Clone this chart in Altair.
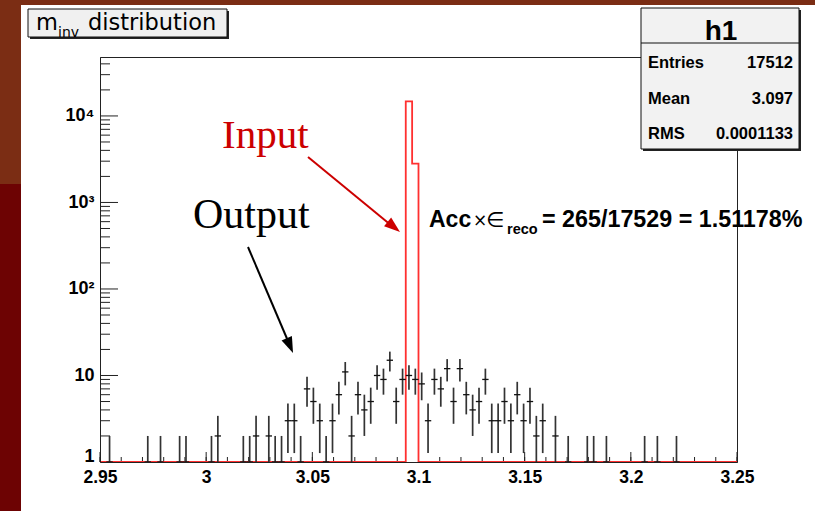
import math
import altair as alt
import pandas as pd

# ---------------- data ----------------
X_MIN, X_MAX = 2.95, 3.25
BIN_W = 0.003
Y_MIN, Y_MAX = 1, 48000

# "Output" histogram: 100 bins of width 0.003 from 2.95 to 3.25
out_counts = ([0, 1, 0, 0, 0, 0, 0, 1, 0, 1, 0, 0, 1, 1, 0, 0, 0, 1, 2, 0,
               0, 0, 1, 1, 2, 0, 2, 1, 1]
              + [3, 3, 1, 7, 5, 3, 1, 3, 6, 11, 2, 6, 4, 5, 10, 9, 15, 5, 9, 10,
                 9, 8, 3, 9, 7, 12, 5, 12, 6, 4, 5, 9, 3, 3, 5, 3, 6, 3, 5, 2, 3]
              + [0, 2, 0, 1, 0, 0, 1, 1, 0, 1, 0, 0, 0, 0, 0, 1, 0, 1, 0, 0,
                 1, 0, 0, 0, 0, 0, 0, 0, 0, 0])
assert len(out_counts) == 100

# "Input" histogram: two filled bins
in_lo = [3.094, 3.097]
in_counts = [14700, 2812]

x_labels = [2.95, 3.0, 3.05, 3.1, 3.15, 3.2, 3.25]
x_minor = [round(2.95 + 0.01 * i, 2) for i in range(31)]
y_labels = [1, 10, 100, 1000, 10000]
y_minor = [m * 10 ** k for k in range(5) for m in range(2, 10) if m * 10 ** k < Y_MAX]

stat_names = ["Entries", "Mean", "RMS"]
stat_values = ["17512", "3.097", "0.0001133"]

# ---------------- tables ----------------
rows = []
for i, n in enumerate(out_counts):
    if n > 0:
        lo = X_MIN + i * BIN_W
        rows.append(dict(lo=lo, hi=lo + BIN_W, xc=lo + BIN_W / 2, n=n))
out_df = pd.DataFrame(rows)

step_x = [X_MIN] + in_lo + [in_lo[-1] + BIN_W, X_MAX]
step_y = [Y_MIN] + in_counts + [Y_MIN, Y_MIN]
in_df = pd.DataFrame({"x": step_x, "y": step_y})

one = pd.DataFrame({"k": [0]})

# ---------------- layout helpers (page pixels -> plot pixels) ----------------
OX, OY = 100, 57
W, H = 637, 405


def PX(x):
    return x - OX


def PY(y):
    return y - OY


xscale = alt.Scale(domain=[X_MIN, X_MAX], nice=False, zero=False)
yscale = alt.Scale(type="log", domain=[Y_MIN, Y_MAX], nice=False, clamp=True)

LAB_FONT = "Liberation Sans"
xaxis = alt.Axis(values=x_labels, format="~g", ticks=False, grid=False, title=None,
                 labelFont=LAB_FONT, labelFontWeight="bold", labelFontSize=17.5,
                 labelColor="black", labelPadding=6, domainColor="#222",
                 labelOverlap=False, labelFlush=False, zindex=1)
yaxis = alt.Axis(values=y_labels, ticks=False, grid=False, title=None,
                 labelExpr="datum.value == 1 ? '1' : datum.value == 10 ? '10' : "
                           "datum.value == 100 ? '10²' : datum.value == 1000 ? '10³' : '10⁴'",
                 labelFont=LAB_FONT, labelFontWeight="bold", labelFontSize=18,
                 labelColor="black", labelPadding=6, domainColor="#222",
                 labelOffset={"condition": {"test": "datum.value == 1", "value": -6}, "value": 0},
                 labelOverlap=False, zindex=1)


def rect(x1, y1, x2, y2, **kw):
    return alt.Chart(one).mark_rect(**kw).encode(
        x=alt.value(PX(x1)), x2=alt.value(PX(x2)),
        y=alt.value(PY(y1)), y2=alt.value(PY(y2)))


def seg(x1, y1, x2, y2, **kw):
    return alt.Chart(one).mark_rule(**kw).encode(
        x=alt.value(PX(x1)), x2=alt.value(PX(x2)),
        y=alt.value(PY(y1)), y2=alt.value(PY(y2)))


def text(s, x, y, **kw):
    return alt.Chart(one).mark_text(text=s, baseline="alphabetic", **kw).encode(
        x=alt.value(PX(x)), y=alt.value(PY(y)))


def arrowhead(tx, ty, ang, color, size=256):
    r = math.sqrt(size) / 2
    cx = tx - r * math.cos(math.radians(ang))
    cy = ty - r * math.sin(math.radians(ang))
    return alt.Chart(one).mark_point(
        shape="M1,0L-1,-0.7L-1,0.7Z", filled=True, size=size, angle=ang,
        color=color, opacity=1, strokeWidth=0).encode(
        x=alt.value(PX(cx)), y=alt.value(PY(cy)))


layers = []

# page background decorations (slide edge)
layers.append(rect(0, 0, 21, 511, color="#6d0303"))
layers.append(rect(0, 0, 21, 184, color="#7b2d14"))
layers.append(rect(0, 0, 815, 5, color="#7b2d14"))

# axis ticks (ROOT style, pointing inwards)
layers.append(alt.Chart(pd.DataFrame({"v": y_labels[1:]})).mark_rule(color="#222", strokeWidth=1).encode(
    y=alt.Y("v:Q", scale=yscale, axis=yaxis), x=alt.value(0), x2=alt.value(18)))
layers.append(alt.Chart(pd.DataFrame({"v": y_minor})).mark_rule(color="#222", strokeWidth=1).encode(
    y=alt.Y("v:Q", scale=yscale, axis=yaxis), x=alt.value(0), x2=alt.value(10)))
layers.append(alt.Chart(pd.DataFrame({"v": x_labels})).mark_rule(color="#222", strokeWidth=1).encode(
    x=alt.X("v:Q", scale=xscale, axis=xaxis), y=alt.value(H), y2=alt.value(H - 10)))
layers.append(alt.Chart(pd.DataFrame({"v": x_minor})).mark_rule(color="#222", strokeWidth=1).encode(
    x=alt.X("v:Q", scale=xscale, axis=xaxis), y=alt.value(H), y2=alt.value(H - 5)))

# Input histogram (red outline)
layers.append(alt.Chart(in_df).mark_line(interpolate="step-after", color="#ff3030", strokeWidth=1.8).encode(
    x=alt.X("x:Q", scale=xscale, axis=xaxis),
    y=alt.Y("y:Q", scale=yscale, axis=yaxis)))

# Output histogram with error bars
err = alt.Chart(out_df).transform_calculate(
    elo="max(datum.n - sqrt(datum.n), 1)", ehi="datum.n + sqrt(datum.n)")
layers.append(err.mark_rule(color="#333", strokeWidth=1.7).encode(
    x=alt.X("xc:Q", scale=xscale, axis=xaxis),
    y=alt.Y("elo:Q", scale=yscale, axis=yaxis), y2="ehi:Q"))
layers.append(err.mark_rule(color="#111", strokeWidth=1.3).encode(
    x=alt.X("lo:Q", scale=xscale, axis=xaxis), x2="hi:Q",
    y=alt.Y("n:Q", scale=yscale, axis=yaxis)))

# annotations: Input / Output labels and arrows
layers.append(text("Input", 222, 148, font="Liberation Serif", fontSize=41, color="#cc0000", align="left"))
layers.append(text("Output", 193, 228, font="Liberation Serif", fontSize=42, color="black", align="left"))
layers.append(seg(308, 157, 392, 226, color="#cc0000", strokeWidth=2))
layers.append(arrowhead(400, 232, 39.2, "#cc0000"))
layers.append(seg(248, 247, 288, 341, color="black", strokeWidth=2))
layers.append(arrowhead(293, 353, 67, "black"))

# Acc x eff text
layers.append(text("Acc", 429, 227, font=LAB_FONT, fontWeight="bold", fontSize=23, color="black", align="left"))
layers.append(text("×", 473, 226, font="DejaVu Sans", fontSize=17, color="black", align="left"))
layers.append(text("∈", 486, 227, font="DejaVu Sans", fontSize=21, color="black", align="left"))
layers.append(text("reco", 507, 234, font=LAB_FONT, fontWeight="bold", fontSize=14.5, color="black", align="left"))
layers.append(text("= 265/17529 = 1.51178%", 542, 227, font=LAB_FONT, fontWeight="bold", fontSize=23.3, color="black", align="left"))

# title box
layers.append(rect(30, 11, 229, 39, color="#222"))
layers.append(rect(28, 9, 227, 37, color="#f0f0f0", stroke="#111", strokeWidth=1))
layers.append(text("m", 36, 30, font="DejaVu Sans", fontSize=22.5, color="black", align="left"))
layers.append(text("inv", 58, 37, font="DejaVu Sans", fontSize=14, color="black", align="left"))
layers.append(text("distribution", 88, 30, font="DejaVu Sans", fontSize=22.5, color="black", align="left"))

# statistics box
layers.append(rect(643, 10, 801, 151, color="#222"))
layers.append(rect(641, 8, 799, 149, color="#f2f2f2", stroke="#111", strokeWidth=1))
layers.append(seg(641, 43, 799, 43, color="#111", strokeWidth=1))
layers.append(text("h1", 721, 40, font=LAB_FONT, fontWeight="bold", fontSize=28, color="black", align="center"))
for k, (nm, vl) in enumerate(zip(stat_names, stat_values)):
    yb = 68 + 35.5 * k
    layers.append(text(nm, 648, yb, font=LAB_FONT, fontWeight="bold", fontSize=16.5, color="black", align="left"))
    layers.append(text(vl, 793, yb, font=LAB_FONT, fontWeight="bold", fontSize=16.5, color="black", align="right"))

chart = alt.layer(*layers).properties(
    width=W, height=H,
    autosize=alt.AutoSizeParams(type="none"),
    padding={"left": OX, "top": OY, "right": 825 - OX - W, "bottom": 511 - OY - H},
    background="white",
).configure_view(stroke="#222", strokeWidth=1)

chart.save("out.html", embed_options={"renderer": "svg", "actions": False})
